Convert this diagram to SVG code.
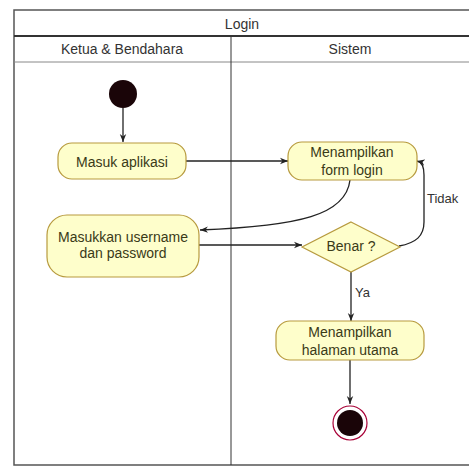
<svg xmlns="http://www.w3.org/2000/svg" width="469" height="468" viewBox="0 0 469 468">
<defs>
<style>
.lane{fill:none;stroke:#555;stroke-width:1.5}
.hdr{fill:#333;font-family:"Liberation Sans",Arial,sans-serif;font-size:14px;text-anchor:middle}
.act{fill:#fefecb;stroke:#b79a3e;stroke-width:1.2}
.lbl{fill:#3a3a18;font-family:"Liberation Sans",Arial,sans-serif;font-size:14px;text-anchor:middle}
.edge{fill:none;stroke:#222;stroke-width:1.3}
.elbl{fill:#333;font-family:"Liberation Sans",Arial,sans-serif;font-size:13px}
</style>
<marker id="arr" viewBox="0 0 10 10" refX="10" refY="5" markerWidth="8" markerHeight="8" orient="auto" markerUnits="userSpaceOnUse">
<path d="M0,1 L10,5 L0,9 L3,5 Z" fill="#222"/>
</marker>
</defs>
<rect width="469" height="468" fill="#fff"/>
<g id="swimlanes">
<path class="lane" d="M475,10 H14 V465 H475"/>
<line x1="14" y1="36" x2="475" y2="36" stroke="#333" stroke-width="1.8"/>
<line x1="14" y1="62" x2="475" y2="62" stroke="#888" stroke-width="1"/>
<line x1="231" y1="36" x2="231" y2="465" stroke="#333" stroke-width="1"/>
<text class="hdr" x="242" y="29">Login</text>
<text class="hdr" x="122" y="54">Ketua &amp; Bendahara</text>
<text class="hdr" x="350" y="54">Sistem</text>
</g>
<g id="connectors">
<line class="edge" x1="123" y1="108" x2="123" y2="142" marker-end="url(#arr)"/>
<line class="edge" x1="186" y1="161" x2="288" y2="161" marker-end="url(#arr)"/>
<path class="edge" d="M350,180 C346,215 300,226 200,230" marker-end="url(#arr)"/>
<line class="edge" x1="199" y1="245" x2="302" y2="245" marker-end="url(#arr)"/>
<path class="edge" d="M399,246 C416,243 424,236 424,222 L424,175 C424,166 422,162 417,161" marker-end="url(#arr)"/>
<text class="elbl" x="427" y="203">Tidak</text>
<line class="edge" x1="351" y1="272" x2="351" y2="321" marker-end="url(#arr)"/>
<text class="elbl" x="355" y="297">Ya</text>
<line class="edge" x1="350" y1="360" x2="350" y2="404" marker-end="url(#arr)"/>
</g>
<g id="start">
<circle cx="123" cy="94" r="14" fill="#1a0508"/>
</g>
<g id="masuk-aplikasi">
<rect class="act" x="58" y="143" width="128" height="36" rx="14"/>
<text class="lbl" x="122" y="167">Masuk aplikasi</text>
</g>
<g id="masukkan-username">
<rect class="act" x="47" y="215" width="152" height="62" rx="20"/>
<text class="lbl" x="123" y="242">Masukkan username</text>
<text class="lbl" x="123" y="258">dan password</text>
</g>
<g id="form-login">
<rect class="act" x="288" y="142" width="129" height="38" rx="14"/>
<text class="lbl" x="352" y="157">Menampilkan</text>
<text class="lbl" x="352" y="175">form login</text>
</g>
<g id="benar">
<polygon class="act" points="351,222 400,247 351,272 302,247"/>
<text class="lbl" x="351" y="251">Benar ?</text>
</g>
<g id="halaman-utama">
<rect class="act" x="276" y="321" width="148" height="39" rx="14"/>
<text class="lbl" x="350" y="337">Menampilkan</text>
<text class="lbl" x="350" y="355">halaman utama</text>
</g>
<g id="end">
<circle cx="350" cy="423" r="17" fill="#fff" stroke="#a80036" stroke-width="1.2"/>
<circle cx="350" cy="423" r="13" fill="#1a0508"/>
</g>
</svg>
